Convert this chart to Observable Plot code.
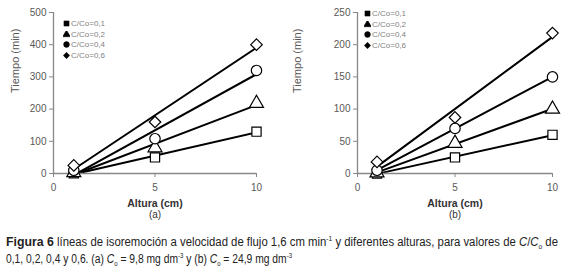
<!DOCTYPE html>
<html><head><meta charset="utf-8">
<script src="https://cdn.jsdelivr.net/npm/d3@7"></script>
<script src="https://cdn.jsdelivr.net/npm/@observablehq/plot@0.6"></script>
<style>
body{margin:0;background:#fff;width:564px;height:269px;overflow:hidden;position:relative;font-family:"Liberation Sans",Arial,sans-serif}
.panel{position:absolute;top:0}
.leg{position:absolute;font:8px "Liberation Sans",sans-serif;color:#7f7f7f;line-height:10.7px}
.leg svg{vertical-align:-1px;margin-right:1px}
.cap{position:absolute;left:6px;white-space:nowrap;font-family:"Liberation Sans",sans-serif;font-size:12px;line-height:16px;color:#222;transform-origin:0 50%}
.cap b{font-size:13px}
sup,sub{font-size:7px;line-height:0}
</style></head><body>
<div id="left" class="panel" style="left:0"></div>
<div id="right" class="panel" style="left:282px"></div>
<div id="legL" class="leg" style="left:63px;top:19px"></div>
<div id="legR" class="leg" style="left:364px;top:9px"></div>
<div id="cap1" class="cap" style="top:234px" data-w="552"><b>Figura 6</b> líneas de isoremoción a velocidad de flujo 1,6 cm min<sup>-1</sup> y diferentes alturas, para valores de <i>C</i>/<i>C</i><sub>o</sub> de</div>
<div id="cap2" class="cap" style="top:251px" data-w="286">0,1, 0,2, 0,4 y 0,6. (a) <i>C</i><sub>o</sub> = 9,8 mg dm<sup>-3</sup> y (b) <i>C</i><sub>o</sub> = 24,9 mg dm<sup>-3</sup></div>
<script>
const alturas = [1, 5, 10];
const series = ["C/Co=0,1", "C/Co=0,2", "C/Co=0,4", "C/Co=0,6"];
const symbols = ["square", "triangle", "circle", "diamond2"];
// panel (a)
const a01 = [1, 50, 130];
const a02 = [3, 80, 218];
const a04 = [10, 108, 320];
const a06 = [25, 160, 400];
// panel (b)
const b01 = [0, 25, 60];
const b02 = [1, 47, 100];
const b04 = [5, 70, 150];
const b06 = [18, 87, 218];
const xTicks = [0, 5, 10];
const yTicksA = [0, 100, 200, 300, 400, 500];
const yTicksB = [0, 50, 100, 150, 200, 250];

function rows(arrs){
  const out = [];
  arrs.forEach((arr, si) => arr.forEach((v, i) => out.push({x: alturas[i], y: v, s: series[si]})));
  return out;
}
const gray = "#888";
function panel(data, yTicks, label, ml, mr){
  return Plot.plot({
    width: 282, height: 220,
    marginLeft: ml, marginRight: mr, marginTop: 12, marginBottom: 47,
    style: {fontFamily: "Liberation Sans, sans-serif", fontSize: "10px", color: "#595959", background: "#fff"},
    x: {domain: [0, 10]},
    y: {domain: [0, yTicks[yTicks.length-1]]},
    symbol: {domain: series, range: symbols},
    marks: [
      Plot.linearRegressionY(data, {x: "x", y: "y", z: "s", stroke: "black", strokeWidth: 2, ci: 0}),
      Plot.ruleY([0], {stroke: gray, strokeWidth: 1.3}),
      Plot.ruleX([0], {stroke: gray, strokeWidth: 1.3}),
      Plot.axisX({ticks: xTicks, tickSize: 4, stroke: gray, tickPadding: 6, label: null, fill: "#595959"}),
      Plot.axisY({ticks: yTicks, tickSize: 4, stroke: gray, tickPadding: 3, label: null, fill: "#595959"}),
      Plot.dot(data, {x: "x", y: "y", symbol: "s", r: 5.2, fill: "white", stroke: "black", strokeWidth: 1.2}),
      Plot.text(["Tiempo (min)"], {frameAnchor: "left", rotate: -90, dx: -(ml - 15), fill: "#595959", fontSize: 11}),
      Plot.text(["Altura (cm)"], {frameAnchor: "bottom", dy: 33, fill: "#333", fontWeight: "bold", fontSize: 10.5}),
      Plot.text([label], {frameAnchor: "bottom", dy: 44, fill: "#333", fontSize: 10})
    ]
  });
}
document.getElementById("left").append(panel(rows([a01,a02,a04,a06]), yTicksA, "(a)", 53, 26));
document.getElementById("right").append(panel(rows([b01,b02,b04,b06]), yTicksB, "(b)", 75, 12));

function legend(el){
  const symScale = Plot.scale({symbol: {domain: series, range: symbols}});
  series.forEach((s) => {
    const row = document.createElement("div");
    const p = d3.create("svg").attr("width", 7).attr("height", 7);
    const sym = d3.symbol(symScale.apply(s), 26);
    p.append("path").attr("d", sym()).attr("transform", "translate(3.5,3.5)").attr("fill", "black").attr("stroke", "black").attr("stroke-width", 0.5);
    row.append(p.node());
    row.append(document.createTextNode(s));
    el.append(row);
  });
}
legend(document.getElementById("legL"));
legend(document.getElementById("legR"));

document.querySelectorAll(".cap").forEach(el => {
  const w = el.getBoundingClientRect().width;
  el.style.transform = `scaleX(${(+el.dataset.w) / w})`;
});
</script>
</body></html>
